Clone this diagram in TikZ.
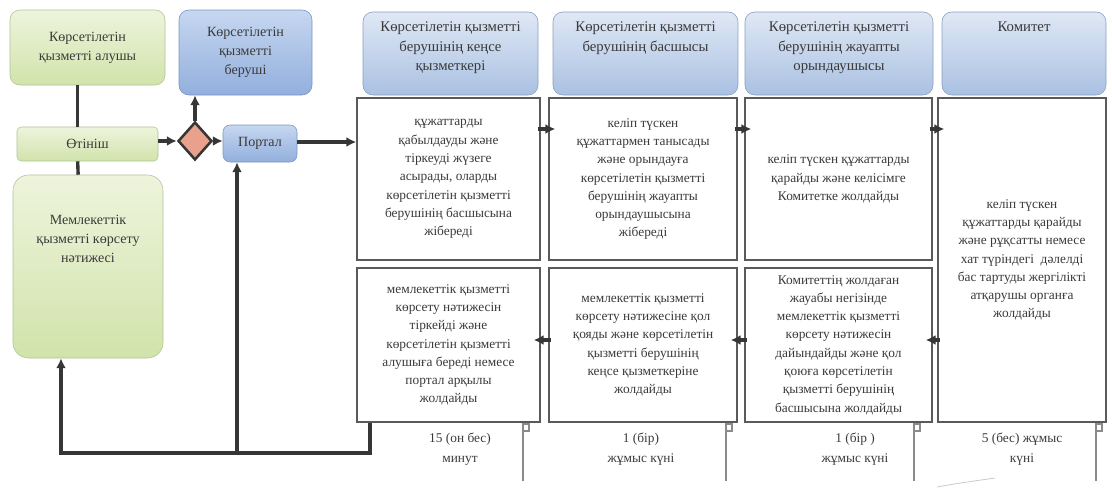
\documentclass[tikz,border=0pt]{standalone}
\usepackage{fontspec}
\setmainfont{Liberation Serif}
\usepackage{tikz}
\usetikzlibrary{arrows.meta}
\usetikzlibrary{shapes.geometric}
\usetikzlibrary{positioning}

\definecolor{linegrey}{HTML}{363636}
\definecolor{boxgrey}{HTML}{5A5A5A}
\definecolor{textgrey}{HTML}{3A3A3A}
\definecolor{greentop}{HTML}{EEF4DC}
\definecolor{greenbot}{HTML}{D1E3AB}
\definecolor{greenline}{HTML}{B0C394}
\definecolor{headtop}{HTML}{DFE8F5}
\definecolor{headbot}{HTML}{AAC1E2}
\definecolor{headline}{HTML}{889FC0}
\definecolor{bluetop}{HTML}{C6D7F0}
\definecolor{bluebot}{HTML}{92AFDD}
\definecolor{blueline}{HTML}{7B95BF}
\definecolor{salmon}{HTML}{E9A18D}

\tikzset{
  boxsize/.style args={#1 by #2}{minimum width=#1*0.025cm, minimum height=#2*0.025cm},
  greenbox/.style={draw=greenline, rounded corners=7pt, top color=greentop, bottom color=greenbot,
    text=textgrey, align=center, inner sep=0pt, font=\fontsize{10}{13.5}\selectfont},
  headbox/.style={draw=headline, rounded corners=7pt, top color=headtop, bottom color=headbot, inner sep=0pt},
  bluebox/.style={draw=blueline, rounded corners=5pt, top color=bluetop, bottom color=bluebot,
    text=textgrey, align=center, inner sep=0pt, font=\fontsize{10}{13.5}\selectfont},
  headtext/.style={text=textgrey, align=center, inner sep=0pt, font=\fontsize{10.5}{14}\selectfont},
  plaintext/.style={text=textgrey, align=center, inner sep=0pt, font=\fontsize{10}{13.5}\selectfont},
  stepbox/.style={draw=boxgrey, line width=1pt, fill=white, align=center, inner sep=0pt,
    text=textgrey, font=\fontsize{9.5}{13}\selectfont},
  daytext/.style={text=textgrey, align=center, inner sep=0pt, font=\fontsize{9.5}{14.5}\selectfont},
  conn/.style={draw=linegrey, line width=2.4pt},
  arr/.style={conn, -{Latex[length=7pt,width=7pt]}},
}

\begin{document}
\begin{tikzpicture}[x=0.025cm, y=-0.025cm]
\useasboundingbox (0,0) rectangle (1112,487);
\coordinate (rowP) at (0,142);
\coordinate (rowA) at (0,129);
\coordinate (rowB) at (0,340);
\coordinate (loopL) at (61,453);
\coordinate (loopM) at (237,453);
\coordinate (loopR) at (370,453);

% left side
\node[greenbox, boxsize=155 by 75] (alushy) at (87.5,47.5) {Көрсетілетін\\қызметті алушы};
\node[greenbox, boxsize=141 by 34, rounded corners=3pt] (otinish) at (87.5,144) {Өтініш};
\node[greenbox, boxsize=150 by 183, rounded corners=11pt] (result) at (88,266.5) {};
\node[plaintext] (resulttext) at (88,239) {Мемлекеттік\\қызметті көрсету\\нәтижесі};
\node[bluebox, boxsize=133 by 85, rounded corners=7pt] (beruwshi) at (245.5,52.5) {Көрсетілетін\\қызметті\\беруші};
\node[diamond, draw=linegrey, line width=1.8pt, fill=salmon, inner sep=0pt, boxsize=34 by 38] (choice) at (195,141) {};
\node[bluebox, boxsize=74 by 37] (portal) at (260,143.5) {Портал};

% lane headers
\node[headbox, boxsize=175 by 83] (h1) at (450.5,53.5) {};
\node[headbox, boxsize=185 by 83] (h2) at (645.5,53.5) {};
\node[headbox, boxsize=188 by 83] (h3) at (839,53.5) {};
\node[headbox, boxsize=164 by 83] (h4) at (1024,53.5) {};
\node[headtext, below=7pt] (h1text) at (h1.north) {Көрсетілетін қызметті\\берушінің кеңсе\\қызметкері};
\node[headtext, below=7pt] (h2text) at (h2.north) {Көрсетілетін қызметті\\берушінің басшысы};
\node[headtext, below=7pt] (h3text) at (h3.north) {Көрсетілетін қызметті\\берушінің жауапты\\орындаушысы};
\node[headtext, below=7pt] (h4text) at (h4.north) {Комитет};

% steps
\node[stepbox, boxsize=183 by 162] (u1) at (448.5,179) {құжаттарды\\қабылдауды және\\тіркеуді жүзеге\\асырады, оларды\\көрсетілетін қызметті\\берушінің басшысына\\жібереді};
\node[stepbox, boxsize=188 by 162] (u2) at (643,179) {келіп түскен\\құжаттармен танысады\\және орындауға\\көрсетілетін қызметті\\берушінің жауапты\\орындаушысына\\жібереді};
\node[stepbox, boxsize=187 by 162] (u3) at (838.5,179) {келіп түскен құжаттарды\\қарайды және келісімге\\Комитетке жолдайды};
\node[stepbox, boxsize=168 by 324] (c4) at (1022,260) {келіп түскен\\құжаттарды қарайды\\және рұқсатты немесе\\хат түріндегі \ дәлелді\\бас тартуды жергілікті\\атқарушы органға\\жолдайды};
\node[stepbox, boxsize=183 by 154] (l1) at (448.5,345) {мемлекеттік қызметті\\көрсету нәтижесін\\тіркейді және\\көрсетілетін қызметті\\алушыға береді немесе\\портал арқылы\\жолдайды};
\node[stepbox, boxsize=188 by 154] (l2) at (643,345) {мемлекеттік қызметті\\көрсету нәтижесіне қол\\қояды және көрсетілетін\\қызметті берушінің\\кеңсе қызметкеріне\\жолдайды};
\node[stepbox, boxsize=187 by 154] (l3) at (838.5,345) {Комитеттің жолдаған\\жауабы негізінде\\мемлекеттік қызметті\\көрсету нәтижесін\\дайындайды және қол\\қоюға көрсетілетін\\қызметті берушінің\\басшысына жолдайды};

% durations
\node[daytext] (d1) at (460,449) {15 (он бес)\\минут};
\node[daytext] (d2) at (641,449) {1 (бір)\\жұмыс күні};
\node[daytext] (d3) at (855,449) {1 (бір )\\жұмыс күні};
\node[daytext] (d4) at (1022,449) {5 (бес) жұмыс\\күні};
\foreach \tx in {523,726,914,1096}
  \draw[boxgrey!70, line width=0.8pt] (\tx,481) -- (\tx,424) -- (\tx+6,424) -- (\tx+6,431) -- (\tx,431);
\draw[gray!40, line width=0.6pt] (937,487) .. controls (960,483) .. (995,478);

% connectors
\draw[conn] ([xshift=-7pt]alushy.south) -- ([xshift=-7pt]otinish.north);
\draw[conn] ([xshift=-7pt]otinish.south) -- ([xshift=-7pt]result.north);
\draw[arr] (otinish.east |- choice.west) -- (choice.west);
\draw[arr] (choice.north) -- (choice.north |- beruwshi.south);
\draw[arr] (choice.east) -- (portal.west |- choice.east);
\draw[arr] (portal.east |- rowP) -- (u1.west |- rowP);
\draw[arr] ([xshift=-2pt]u1.east |- rowA) -- ([xshift=5pt]u2.west |- rowA);
\draw[arr] ([xshift=-2pt]u2.east |- rowA) -- ([xshift=5pt]u3.west |- rowA);
\draw[arr] ([xshift=-2pt]u3.east |- rowA) -- ([xshift=5pt]c4.west |- rowA);
\draw[arr] ([xshift=2pt]c4.west |- rowB) -- ([xshift=-5pt]l3.east |- rowB);
\draw[arr] ([xshift=2pt]l3.west |- rowB) -- ([xshift=-5pt]l2.east |- rowB);
\draw[arr] ([xshift=2pt]l2.west |- rowB) -- ([xshift=-5pt]l1.east |- rowB);
\draw[conn, -{Latex[length=7pt,width=7pt]}] (l1.south -| loopR) -- (loopR) -- (loopL) -- (result.south -| loopL);
\draw[arr] (loopM) -- (portal.south -| loopM);
\end{tikzpicture}
\end{document}
